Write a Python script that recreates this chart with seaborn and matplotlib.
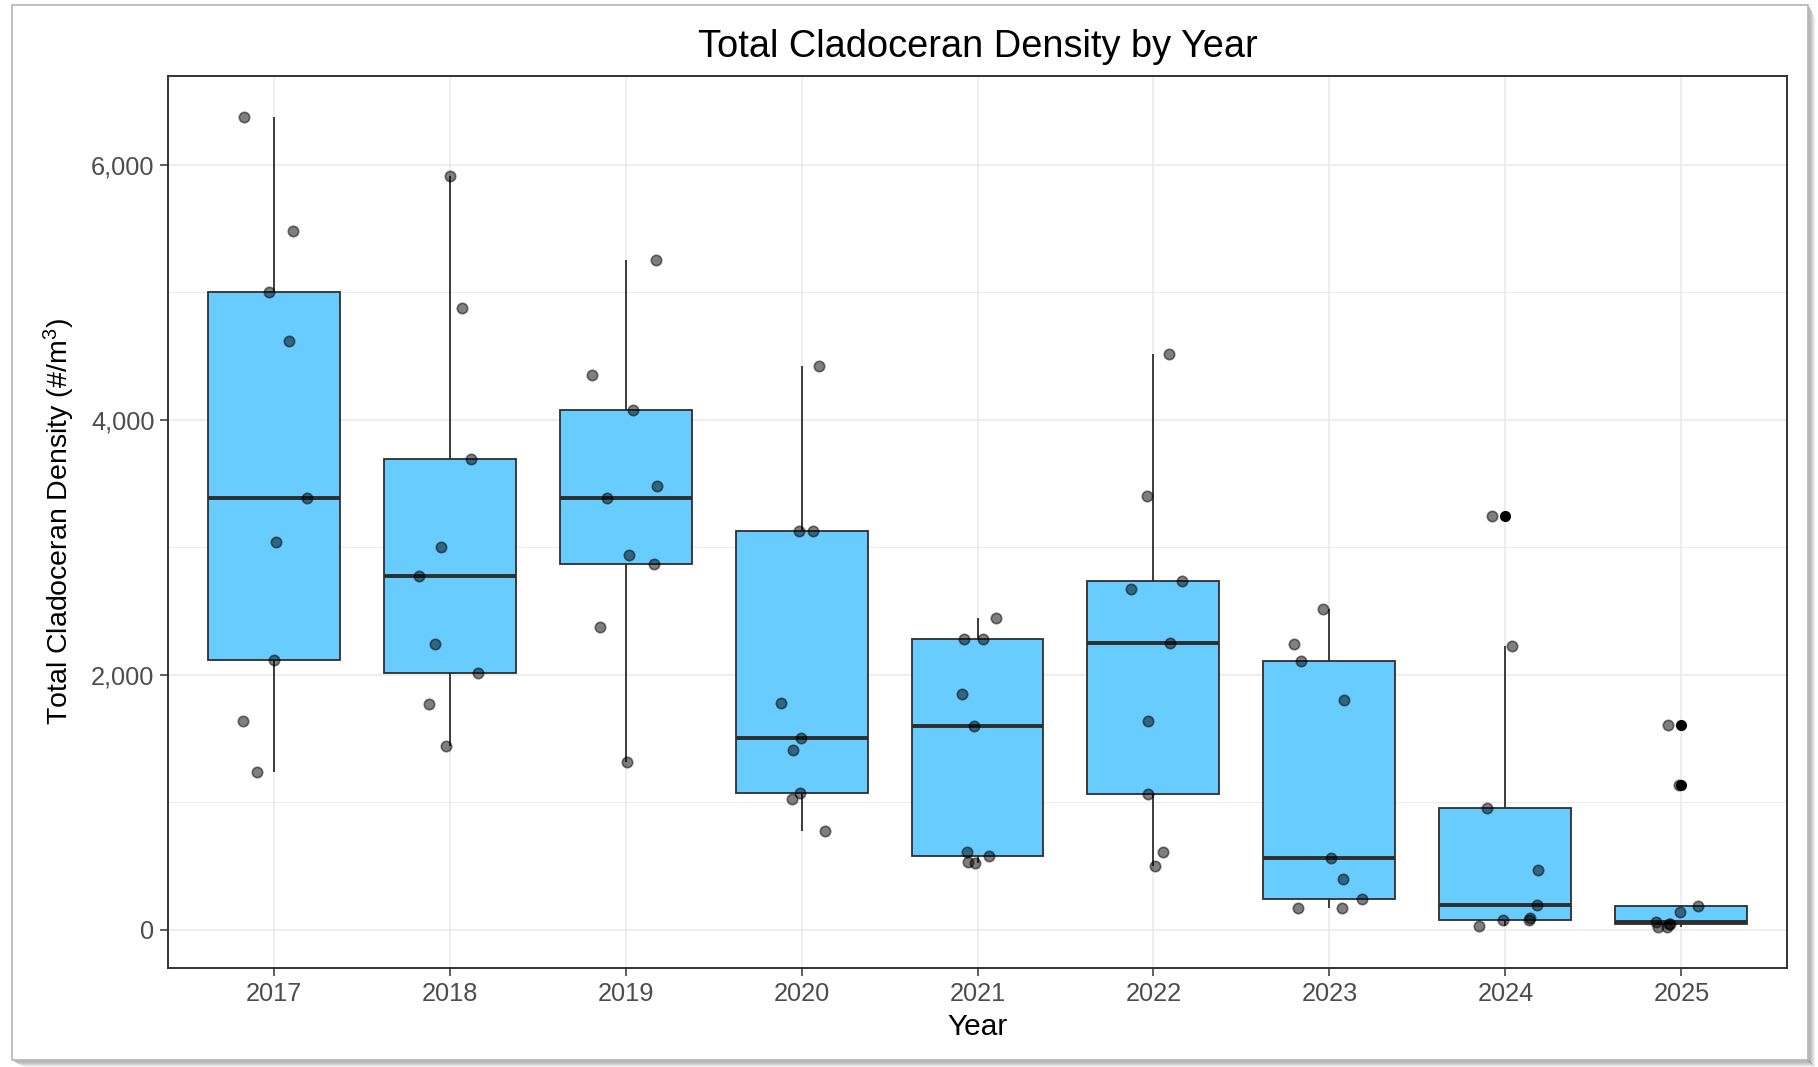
import numpy as np
import pandas as pd
import matplotlib
matplotlib.use("Agg")
import matplotlib.pyplot as plt
from matplotlib.ticker import FuncFormatter, FixedLocator
from matplotlib.patches import Rectangle
from matplotlib.lines import Line2D
import seaborn as sns

# Cladoceran density (#/m^3) per sampling event, grouped by year
years = ["2017", "2018", "2019", "2020", "2021", "2022", "2023", "2024", "2025"]
d2017 = [6378, 5483, 5000, 4617, 3383, 3044, 2119, 1635, 1240]
d2018 = [5909, 4878, 3696, 3000, 2775, 2242, 2012, 1771, 1440]
d2019 = [5256, 4349, 4077, 3482, 3383, 2940, 2869, 2378, 1314]
d2020 = [4423, 3130, 3130, 1779, 1502, 1410, 1075, 1029, 772]
d2021 = [2443, 2280, 2280, 1850, 1600, 612, 580, 531, 525]
d2022 = [4515, 3404, 2736, 2674, 2250, 1638, 1062, 606, 500]
d2023 = [2514, 2242, 2104, 1802, 565, 396, 245, 170, 170]
d2024 = [3242, 2228, 953, 470, 198, 93, 74, 74, 27]
d2025 = [1604, 1132, 184, 137, 58, 45, 45, 20, 18]
y_major = [0, 2000, 4000, 6000]
y_minor = [1000, 3000, 5000]

series = [d2017, d2018, d2019, d2020, d2021, d2022, d2023, d2024, d2025]
df = pd.DataFrame({
    "Year": [y for y, vals in zip(years, series) for _ in vals],
    "Density": [v for vals in series for v in vals],
})

sns.set_theme(style="white")
plt.rcParams["font.family"] = ["Liberation Sans", "DejaVu Sans"]
plt.rcParams["mathtext.fontset"] = "custom"
plt.rcParams["mathtext.rm"] = "Liberation Sans"
plt.rcParams["mathtext.it"] = "Liberation Sans:italic"

W, H = 1818, 1067
fig = plt.figure(figsize=(W / 100, H / 100), dpi=100)
fig.patch.set_facecolor("white")
ax = fig.add_axes([168 / W, 1 - 968 / H, (1787 - 168) / W, (968 - 76) / H])

edge = "#2E2E2E"
sns.boxplot(
    data=df, x="Year", y="Density", order=years, ax=ax,
    color="#68CCFF", saturation=1, width=0.75, linecolor=edge, linewidth=1.3,
    whis=1.5, showcaps=False,
    medianprops=dict(linewidth=2.8, color=edge),
    flierprops=dict(marker="o", markerfacecolor="black", markeredgecolor="black",
                    markersize=7, alpha=1),
)

np.random.seed(7)
sns.stripplot(
    data=df, x="Year", y="Density", order=years, ax=ax,
    jitter=0.2, color="black", alpha=0.5, size=7.5,
    linewidth=1.2, edgecolor="black",
)

# Axis ranges with 5% padding on the data, 0.6 category units on each side
vals = df["Density"].to_numpy()
span = vals.max() - vals.min()
ax.set_ylim(vals.min() - 0.05 * span, vals.max() + 0.05 * span)
ax.set_xlim(-0.6, len(years) - 1 + 0.6)

ax.yaxis.set_major_locator(FixedLocator(y_major))
ax.yaxis.set_minor_locator(FixedLocator(y_minor))
ax.yaxis.set_major_formatter(FuncFormatter(lambda v, p: f"{int(v):,}"))

ax.set_axisbelow(True)
ax.grid(True, which="major", axis="both", color="#EBEBEB", linewidth=1.2)
ax.grid(True, which="minor", axis="y", color="#EBEBEB", linewidth=0.7)
for s in ax.spines.values():
    s.set_visible(True)
    s.set_color("#333333")
    s.set_linewidth(1.4)

ax.tick_params(axis="both", which="major", length=5.8, width=1.1, color="#333333",
               labelsize=18.3, labelcolor="#4D4D4D", pad=4, left=True, bottom=True)
ax.tick_params(axis="y", which="minor", length=0)

ax.set_xlabel("Year", fontsize=21.5, color="black")
ax.set_ylabel("Total Cladoceran Density (#/m$^3$)", fontsize=20.5, color="black")
ax.xaxis.set_label_coords(0.5, -0.05)
ax.yaxis.set_label_coords(-0.0565, 0.5)

fig.text((168 + 1787) / 2 / W, 1 - 47 / H, "Total Cladoceran Density by Year",
         ha="center", va="center", fontsize=27.4, color="black")

# Page frame with a soft drop shadow
x0, y0, x1, y1 = 12 / W, 1 - 1060 / H, 1808 / W, 1 - 5 / H
for i in range(1, 7):
    a = 0.28 * (1 - i / 7)
    fig.add_artist(Line2D([x1 + i / W, x1 + i / W], [y0 - i / H, y1 - 2 * i / H],
                          color="black", alpha=a, linewidth=1, transform=fig.transFigure))
    fig.add_artist(Line2D([x0 + 2 * i / W, x1 + i / W], [y0 - i / H, y0 - i / H],
                          color="black", alpha=a, linewidth=1, transform=fig.transFigure))
fig.add_artist(Rectangle((x0, y0), x1 - x0, y1 - y0, fill=False, edgecolor="#B4B4B4",
                         linewidth=1.2, transform=fig.transFigure))

fig.savefig("out.png", dpi=100, facecolor="white")
